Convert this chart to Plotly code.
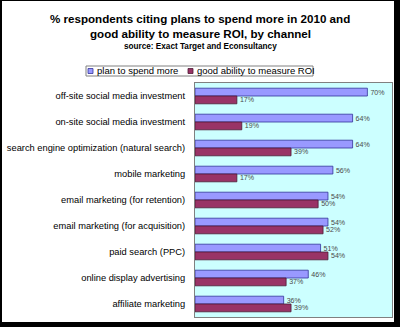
import plotly.graph_objects as go

channels = [
    "off-site social media investment",
    "on-site social media investment",
    "search engine optimization (natural search)",
    "mobile marketing",
    "email marketing (for retention)",
    "email marketing (for acquisition)",
    "paid search (PPC)",
    "online display advertising",
    "affiliate marketing",
]
series_names = ["plan to spend more", "good ability to measure ROI"]
plan_to_spend_more = [70, 64, 64, 56, 54, 54, 51, 46, 36]
good_ability_roi = [17, 19, 39, 17, 50, 52, 54, 37, 39]

W, H = 400, 327
L, R, T, B = 195, 8, 83, 10
pw, ph = W - L - R, H - T - B

BLUE, BLUE_EDGE = "#9999FF", "#333399"
RED, RED_EDGE = "#993366", "#4d1a33"


def px_x(p):
    return (p - L) / pw


def px_y(p):
    return (H - B - p) / ph


fig = go.Figure()
for name, vals, col, edge in [
    (series_names[0], plan_to_spend_more, BLUE, BLUE_EDGE),
    (series_names[1], good_ability_roi, RED, RED_EDGE),
]:
    fig.add_trace(go.Bar(
        y=channels, x=vals, orientation="h", name=name,
        marker=dict(color=col, line=dict(color=edge, width=0.8)),
        texttemplate="%{x}%", textposition="outside",
        textfont=dict(family="Arial", size=10, color="#4a4a4a"),
        cliponaxis=False,
    ))

shapes = []
annotations = []

# outer frame with heavier right/bottom edges
for x0, y0, x1, y1 in [(0, 0, 2, H), (0, 0, W, 1), (394, 0, W, H), (0, 322, W, H)]:
    shapes.append(dict(type="rect", xref="paper", yref="paper",
                       x0=px_x(x0), x1=px_x(x1), y0=px_y(y1), y1=px_y(y0),
                       fillcolor="black", line=dict(width=0), layer="above"))

# title block
for text, py, size in [
    ("<b>% respondents citing plans to spend more in 2010 and</b>", 18, 11.6),
    ("<b>good ability to measure ROI, by channel</b>", 33.5, 11.6),
    ("<b>source: Exact Target and Econsultancy</b>", 46.5, 8.2),
]:
    annotations.append(dict(text=text, xref="paper", yref="paper",
                            x=px_x(200), y=px_y(py), xanchor="center",
                            yanchor="middle", showarrow=False,
                            font=dict(family="Arial", size=size, color="black")))

# legend box
shapes.append(dict(type="rect", xref="paper", yref="paper",
                   x0=px_x(86), x1=px_x(313), y0=px_y(76), y1=px_y(66),
                   fillcolor="white", line=dict(color="#808080", width=1)))
for (sx, tx), name, col, edge in [((88, 95), series_names[0], BLUE, BLUE_EDGE),
                                  ((188, 195), series_names[1], RED, RED_EDGE)]:
    shapes.append(dict(type="rect", xref="paper", yref="paper",
                       x0=px_x(sx), x1=px_x(sx + 5), y0=px_y(73.5), y1=px_y(68.5),
                       fillcolor=col, line=dict(color=edge, width=0.8)))
    annotations.append(dict(text=name, xref="paper", yref="paper",
                            x=px_x(tx), y=px_y(71), xanchor="left",
                            yanchor="middle", showarrow=False,
                            font=dict(family="Arial", size=9.5, color="black")))

fig.update_layout(
    width=W, height=H,
    margin=dict(l=L, r=R, t=T, b=B, autoexpand=False),
    paper_bgcolor="white", plot_bgcolor="#CCFFFF",
    barmode="group", bargap=0.4, bargroupgap=0,
    font=dict(family="Arial", size=9.5, color="black"),
    showlegend=False,
    xaxis=dict(range=[0, 80], showgrid=False, showticklabels=False,
               zeroline=False, showline=True, mirror=True, linecolor="#808080",
               linewidth=1, automargin=False),
    yaxis=dict(autorange="reversed", showgrid=False, showline=True, mirror=True,
               linecolor="#808080", linewidth=1, ticks="", ticklabelstandoff=7,
               automargin=False,
               tickfont=dict(family="Arial", size=9.3, color="black")),
    shapes=shapes,
    annotations=annotations,
)

fig.write_html("out.html")
